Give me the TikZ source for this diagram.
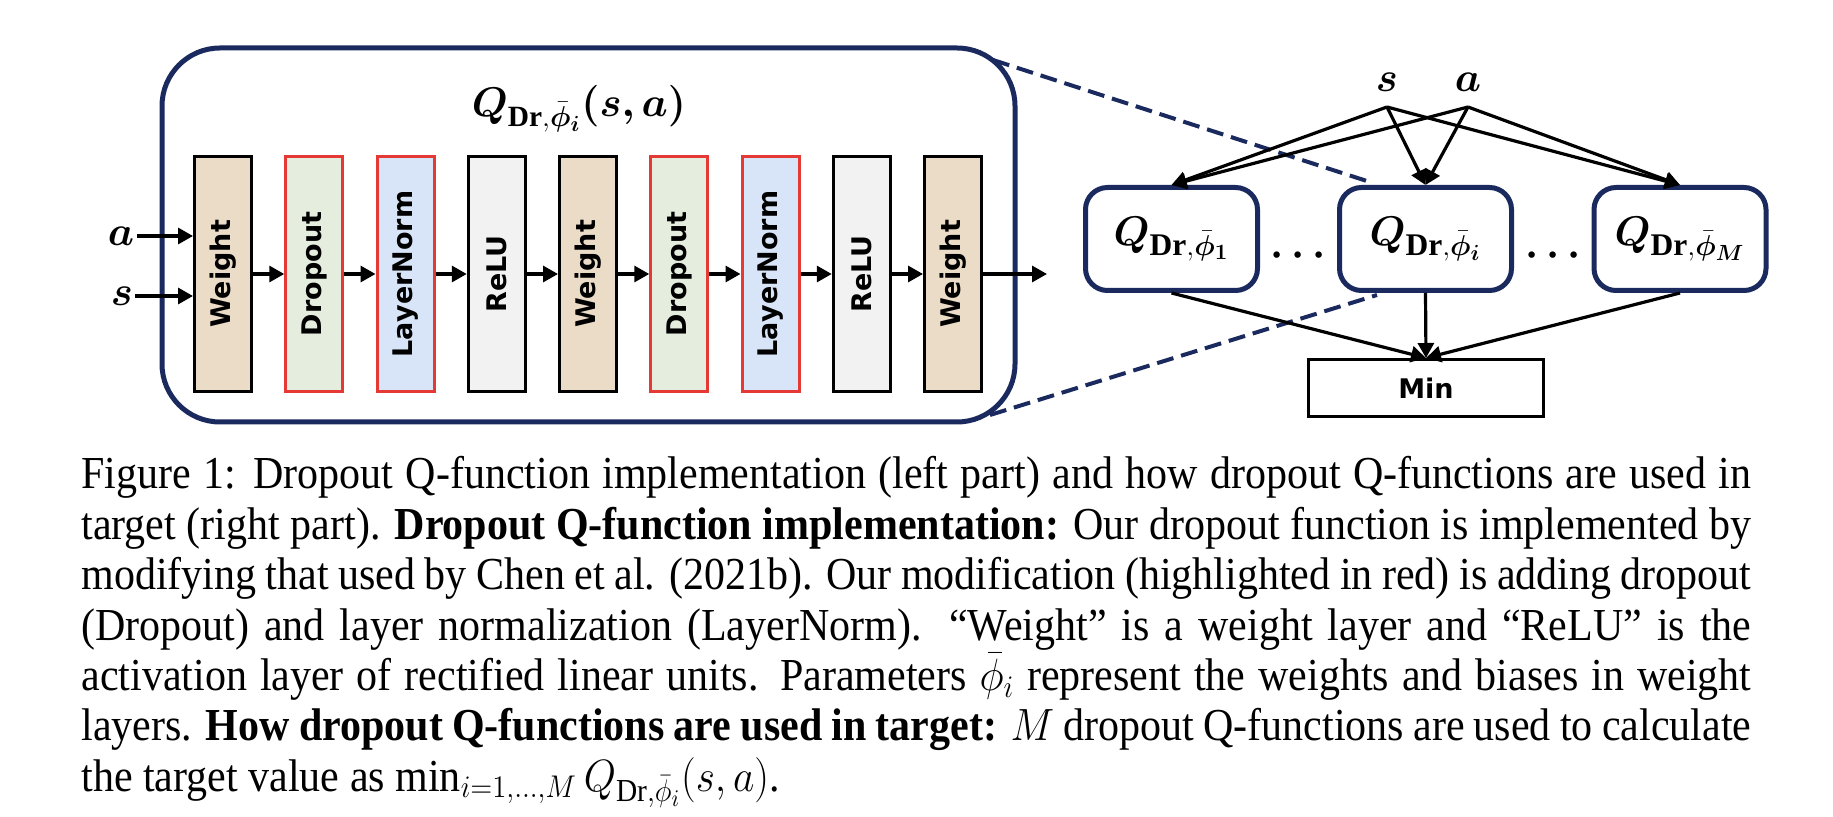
\documentclass[tikz,border=0pt]{standalone}
\usepackage{graphicx}
\usepackage{bm}
\usepackage{fontspec}
\setmainfont{Liberation Serif}
\newfontfamily\boxfont{DejaVu Sans}
\usetikzlibrary{arrows.meta}
\definecolor{navy}{RGB}{27,42,94}
\definecolor{hred}{RGB}{229,57,53}
\definecolor{wfill}{RGB}{235,220,200}
\definecolor{dfill}{RGB}{228,237,222}
\definecolor{lfill}{RGB}{216,229,248}
\definecolor{rfill}{RGB}{242,242,242}
\newcommand{\qlab}[1]{$\bm{Q}_{\mathbf{Dr},\bar{\bm{\phi}}_{\bm{#1}}}$}
\newcommand{\qtitle}{$\bm{Q}_{\mathbf{Dr},\bar{\bm{\phi}}_{\bm{i}}}\bm{(s,a)}$}
\begin{document}
\begin{tikzpicture}[x=0.5pt,y=-0.5pt,
  layer/.style={draw, line width=1.5pt, minimum width=28.5pt, minimum height=117.5pt, inner sep=0pt,
    font=\boxfont\bfseries\fontsize{13.5}{13.5}\selectfont},
  wbox/.style={layer, fill=wfill},
  dbox/.style={layer, fill=dfill, draw=hred},
  lbox/.style={layer, fill=lfill, draw=hred},
  rbox/.style={layer, fill=rfill},
  qbox/.style={draw=navy, line width=2.5pt, rounded corners=11pt, minimum width=86pt, minimum height=51.5pt, inner sep=0pt,
    font=\fontsize{22.5}{22.5}\selectfont},
  var/.style={inner sep=1pt, font=\fontsize{21}{21}\selectfont},
  arr/.style={line width=1.6pt, -{Triangle[length=7.5pt,width=8pt]}},
  link/.style={draw=navy, line width=2pt, dash pattern=on 8.5pt off 4pt},
  dotsn/.style={inner sep=0pt, font=\fontsize{22}{22}\selectfont}
]
\useasboundingbox (0,0) rectangle (1833,817);
\node[draw=navy, line width=2.5pt, rounded corners=29pt, minimum width=426.5pt, minimum height=187pt, inner sep=0pt] (outer) at (588.5,235) {};
\node[anchor=base, inner sep=0pt, font=\fontsize{21}{21}\selectfont] (title) at (579,117) {\qtitle};
\node[wbox] (l1) at (223,274) {\rotatebox{90}{Weight}};
\node[dbox] (l2) at (314.25,274) {\rotatebox{90}{Dropout}};
\node[lbox] (l3) at (405.5,274) {\rotatebox{90}{LayerNorm}};
\node[rbox] (l4) at (496.75,274) {\rotatebox{90}{ReLU}};
\node[wbox] (l5) at (588,274) {\rotatebox{90}{Weight}};
\node[dbox] (l6) at (679.25,274) {\rotatebox{90}{Dropout}};
\node[lbox] (l7) at (770.5,274) {\rotatebox{90}{LayerNorm}};
\node[rbox] (l8) at (861.75,274) {\rotatebox{90}{ReLU}};
\node[wbox] (l9) at (953,274) {\rotatebox{90}{Weight}};
\foreach \i/\j in {l1/l2,l2/l3,l3/l4,l4/l5,l5/l6,l6/l7,l7/l8,l8/l9}
  \draw[arr] (\i.east) -- (\j.west);
\node[var] (la) at (121,236) {$\bm{a}$};
\node[var] (ls) at (122,296) {$\bm{s}$};
\draw[arr] (la.east) -- (la.east -| l1.west);
\draw[arr] (ls.east) -- (ls.east -| l1.west);
\coordinate (out) at (1047,274);
\draw[arr] (l9.east) -- (out);
\node[qbox] (q1) at (1171.5,239) {\qlab{1}};
\node[qbox] (qi) at (1425.5,239) {\qlab{i}};
\node[qbox] (qm) at (1680,239) {\qlab{M}};
\node[dotsn] (dots1) at (1298,256) {$\bm{\cdots}$};
\node[dotsn] (dots2) at (1553,256) {$\bm{\cdots}$};
\node[draw, line width=1.5pt, minimum width=117.5pt, minimum height=28.5pt, inner sep=0pt,
  font=\boxfont\bfseries\fontsize{13.5}{13.5}\selectfont] (min) at (1426,388) {Min};
\coordinate (d1) at (993,60);
\coordinate (d2) at (1373,183);
\coordinate (d3) at (990,415);
\coordinate (d4) at (1377,295);
\draw[link] (d1) -- (d2);
\draw[link] (d3) -- (d4);
\node[var] (rs) at (1387,82) {$\bm{s}$};
\node[var] (ra) at (1468,82) {$\bm{a}$};
\coordinate (s0) at (1387,107);
\coordinate (a0) at (1468,107);
\foreach \q in {q1,qi,qm} {
  \draw[arr] (s0) -- (\q.north);
  \draw[arr] (a0) -- (\q.north);
  \draw[arr] (\q.south) -- (min.north);
}
\node[anchor=base west, inner sep=0pt] (cap) at (81,489) {\scalebox{1}[1.09]{\parbox[t]{835pt}{\fontsize{21}{23.1}\selectfont
Figure 1: Dropout Q-function implementation (left part) and how dropout Q-functions are used in\linebreak
target (right part). \textbf{Dropout Q-function implementation:} Our dropout function is implemented by\linebreak
modifying that used by Chen et al. (2021b). Our modification (highlighted in red) is adding dropout\linebreak
(Dropout) and layer normalization (LayerNorm). ``Weight'' is a weight layer and ``ReLU'' is the\linebreak
activation layer of rectified linear units. Parameters $\bar{\phi}_i$ represent the weights and biases in weight\linebreak
layers. \textbf{How dropout Q-functions are used in target:} $M$ dropout Q-functions are used to calculate\linebreak
the target value as $\min_{i=1,\dots,M} Q_{\mathrm{Dr},\bar{\phi}_i}(s,a)$.}}};
\end{tikzpicture}
\end{document}
